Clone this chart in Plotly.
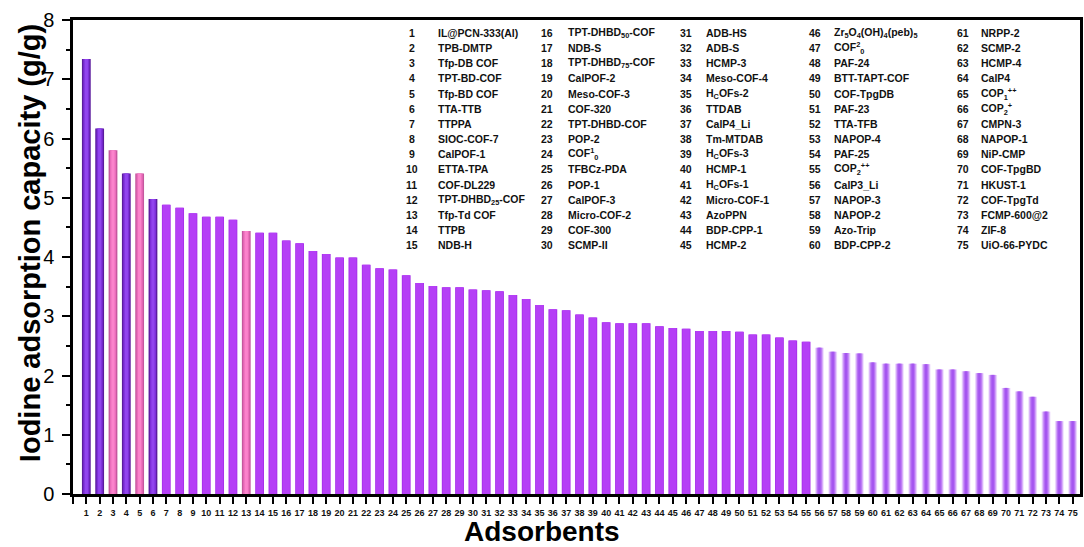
import plotly.graph_objects as go

# Iodine uptake (g/g) for each adsorbent, ranked from highest to lowest
names = [
    "IL@PCN-333(Al)", "TPB-DMTP", "Tfp-DB COF", "TPT-BD-COF", "Tfp-BD COF",
    "TTA-TTB", "TTPPA", "SIOC-COF-7", "CalPOF-1", "ETTA-TPA",
    "COF-DL229", "TPT-DHBD<sub>25</sub>-COF", "Tfp-Td COF", "TTPB", "NDB-H",
    "TPT-DHBD<sub>50</sub>-COF", "NDB-S", "TPT-DHBD<sub>75</sub>-COF", "CalPOF-2", "Meso-COF-3",
    "COF-320", "TPT-DHBD-COF", "POP-2", "COF<sup>1</sup><sub>0</sub>", "TFBCz-PDA",
    "POP-1", "CalPOF-3", "Micro-COF-2", "COF-300", "SCMP-II",
    "ADB-HS", "ADB-S", "HCMP-3", "Meso-COF-4", "H<sub>C</sub>OFs-2",
    "TTDAB", "CalP4_Li", "Tm-MTDAB", "H<sub>C</sub>OFs-3", "HCMP-1",
    "H<sub>C</sub>OFs-1", "Micro-COF-1", "AzoPPN", "BDP-CPP-1", "HCMP-2",
    "Zr<sub>5</sub>O<sub>4</sub>(OH)<sub>4</sub>(peb)<sub>5</sub>", "COF<sup>2</sup><sub>0</sub>", "PAF-24", "BTT-TAPT-COF", "COF-TpgDB",
    "PAF-23", "TTA-TFB", "NAPOP-4", "PAF-25", "COP<sub>2</sub><sup>++</sup>",
    "CalP3_Li", "NAPOP-3", "NAPOP-2", "Azo-Trip", "BDP-CPP-2",
    "NRPP-2", "SCMP-2", "HCMP-4", "CalP4", "COP<sub>1</sub><sup>++</sup>",
    "COP<sub>2</sub><sup>+</sup>", "CMPN-3", "NAPOP-1", "NiP-CMP", "COF-TpgBD",
    "HKUST-1", "COF-TpgTd", "FCMP-600@2", "ZIF-8", "UiO-66-PYDC",
]

capacity = [
    7.34, 6.17, 5.80, 5.41, 5.41, 4.98, 4.88, 4.83, 4.74, 4.68,
    4.68, 4.63, 4.44, 4.41, 4.41, 4.28, 4.23, 4.10, 4.05, 3.99,
    3.99, 3.87, 3.81, 3.79, 3.69, 3.56, 3.51, 3.49, 3.49, 3.45,
    3.44, 3.42, 3.36, 3.29, 3.19, 3.12, 3.10, 3.03, 2.98, 2.90,
    2.88, 2.88, 2.88, 2.83, 2.80, 2.79, 2.75, 2.75, 2.75, 2.74,
    2.69, 2.69, 2.64, 2.59, 2.57, 2.47, 2.40, 2.38, 2.37, 2.22,
    2.20, 2.20, 2.20, 2.19, 2.10, 2.10, 2.07, 2.04, 2.01, 1.79,
    1.73, 1.64, 1.39, 1.23, 1.23,
]

index = list(range(1, len(capacity) + 1))

# Bar colour groups (by adsorbent number)
dark_ids = {1, 2, 4, 6}
pink_ids = {3, 5, 13}
faded_from = 56

# Each style is drawn as nested bars (outer -> inner) to fake a shaded fill
styles = {
    "dark": [(0.66, "#5b1c9e"), (0.46, "#7d2fd8"), (0.24, "#9245ee")],
    "pink": [(0.66, "#c5579e"), (0.46, "#ea6cba"), (0.24, "#fb83cc")],
    "main": [(0.66, "#a52ee8"), (0.54, "#b53ff6")],
    "faded": [(0.66, "#eedcfd"), (0.52, "#d3a6f9"), (0.36, "#b873f4"), (0.18, "#a556ef")],
}


def group_of(i):
    if i in dark_ids:
        return "dark"
    if i in pink_ids:
        return "pink"
    if i >= faded_from:
        return "faded"
    return "main"


fig = go.Figure()
for key, layers in styles.items():
    xs = [i for i in index if group_of(i) == key]
    ys = [capacity[i - 1] for i in xs]
    for w, col in layers:
        fig.add_trace(go.Bar(
            x=xs, y=ys, width=w,
            marker=dict(color=col, line=dict(width=0)),
            showlegend=False, hoverinfo="skip",
        ))

# Plot-area geometry in pixels (used to place the numbered name list)
W, H = 1084, 547
L, R, T, B = 73, 1, 20, 53
pw, ph = W - L - R, H - T - B


def px_x(x):
    return (x - L) / pw


def px_y(y):
    return (H - B - y) / ph


label_font = dict(family="Liberation Sans, Arial", size=10.5, color="#111111")
num_cols = [413, 548, 688, 817, 966]
name_cols = [437, 567, 706, 834, 982]
row0, row_step = 33, 15.15
annotations = []
for k, name in enumerate(names):
    c, r = divmod(k, 15)
    yy = px_y(row0 + r * row_step)
    annotations.append(dict(
        x=px_x(num_cols[c]), y=yy, xref="paper", yref="paper",
        text=f"<b>{k + 1}</b>", showarrow=False, xanchor="center", yanchor="middle",
        font=label_font,
    ))
    annotations.append(dict(
        x=px_x(name_cols[c]), y=yy, xref="paper", yref="paper",
        text=f"<b>{name}</b>", showarrow=False, xanchor="left", yanchor="middle",
        font=label_font,
    ))

annotations.append(dict(
    x=px_x(30), y=px_y(243), xref="paper", yref="paper",
    text="<b>Iodine adsorption capacity (g/g)</b>", textangle=-90,
    showarrow=False, xanchor="center", yanchor="middle",
    font=dict(family="Liberation Sans, Arial", size=29, color="black"),
))
annotations.append(dict(
    x=px_x(543), y=px_y(531), xref="paper", yref="paper",
    text="<b>Adsorbents</b>", showarrow=False, xanchor="center", yanchor="middle",
    font=dict(family="Liberation Sans, Arial", size=28, color="black"),
    borderpad=0,
))

fig.update_layout(
    width=W, height=H,
    margin=dict(l=L, r=R, t=T, b=B),
    paper_bgcolor="white", plot_bgcolor="white",
    barmode="overlay",
    annotations=annotations,
    xaxis=dict(
        range=[0, 75.55],
        tickmode="array",
        tickvals=[0] + index,
        ticktext=[""] + [f"<b>{i}</b>" for i in index],
        tickangle=0,
        ticks="outside", ticklen=7, tickwidth=1.5, tickcolor="black",
        tickfont=dict(family="Liberation Sans, Arial", size=9, color="#111111"),
        ticklabelstandoff=1,
        showline=True, linewidth=2.5, linecolor="black", mirror=True,
        showgrid=False, zeroline=False,
    ),
    yaxis=dict(
        range=[0, 8], dtick=1,
        ticks="outside", ticklen=8, tickwidth=1.5, tickcolor="black",
        minor=dict(dtick=0.5, ticks="outside", ticklen=4, tickwidth=1.5, tickcolor="black"),
        tickfont=dict(family="Liberation Sans, Arial", size=20, color="black"),
        ticklabelstandoff=4,
        showline=True, linewidth=2.5, linecolor="black", mirror=True,
        showgrid=False, zeroline=False,
    ),
)

fig.write_html("out.html")
